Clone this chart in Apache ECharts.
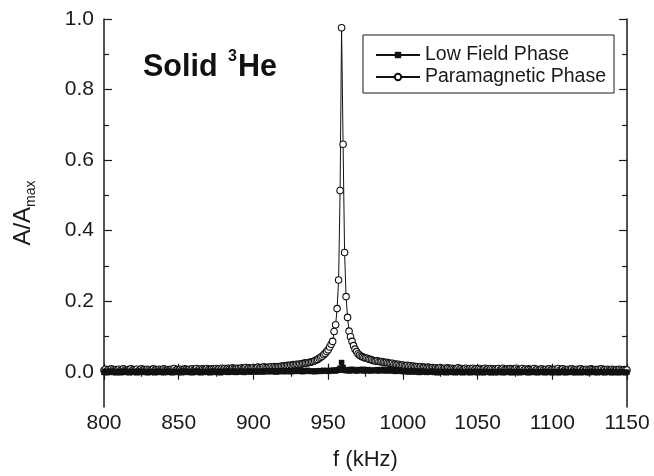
<!DOCTYPE html>
<html>
<head>
<meta charset="utf-8">
<script src="https://cdn.jsdelivr.net/npm/echarts@6/dist/echarts.min.js"></script>
<style>
html,body{margin:0;padding:0;background:#fff;}
#chart{width:654px;height:476px;}
</style>
</head>
<body>
<div id="chart"></div>
<script>
// Frequencies (kHz)
const freqs = [
  800,801,802,803,804,805,806,807,808,809,
  810,811,812,813,814,815,816,817,818,819,
  820,821,822,823,824,825,826,827,828,829,
  830,831,832,833,834,835,836,837,838,839,
  840,841,842,843,844,845,846,847,848,849,
  850,851,852,853,854,855,856,857,858,859,
  860,861,862,863,864,865,866,867,868,869,
  870,871,872,873,874,875,876,877,878,879,
  880,881,882,883,884,885,886,887,888,889,
  890,891,892,893,894,895,896,897,898,899,
  900,901,902,903,904,905,906,907,908,909,
  910,911,912,913,914,915,916,917,918,919,
  920,921,922,923,924,925,926,927,928,929,
  930,931,932,933,934,935,936,937,938,
  939,940,941,942,943,944,945,946,947,948,
  949,950,951,952,953,954,955,956,957,958,
  959,960,961,962,963,964,965,966,967,968,
  969,970,971,972,973,974,975,976,977,978,
  979,980,981,
  982,983,984,985,986,987,988,989,990,991,
  992,993,994,995,996,997,998,999,1000,1001,
  1002,1003,1004,1005,1006,1007,1008,1009,1010,1011,
  1012,1013,1014,1015,1016,1017,1018,1019,1020,1021,
  1022,1023,1024,1025,1026,1027,1028,1029,1030,1031,
  1032,1033,1034,1035,1036,1037,1038,1039,1040,1041,
  1042,1043,1044,1045,1046,1047,1048,1049,1050,1051,
  1052,1053,1054,1055,1056,1057,1058,1059,1060,1061,
  1062,1063,1064,1065,1066,1067,1068,1069,1070,1071,
  1072,1073,1074,1075,1076,1077,1078,1079,1080,1081,
  1082,1083,1084,1085,1086,1087,1088,1089,1090,1091,
  1092,1093,1094,1095,1096,1097,1098,1099,1100,1101,
  1102,1103,1104,1105,1106,1107,1108,1109,1110,1111,
  1112,1113,1114,1115,1116,1117,1118,1119,1120,1121,
  1122,1123,1124,1125,1126,1127,1128,1129,1130,1131,
  1132,1133,1134,1135,1136,1137,1138,1139,1140,1141,
  1142,1143,1144,1145,1146,1147,1148,1149,1150
];
// Low Field Phase, A/Amax
const lowField = [
  -0.002,0.001,-0.003,0.000,-0.001,0.002,-0.002,0.000,-0.003,0.001,
  -0.001,-0.003,0.000,0.002,-0.002,-0.001,0.001,-0.003,0.000,-0.002,
  0.001,-0.001,-0.003,0.000,0.002,-0.002,0.000,-0.001,0.001,-0.003,
  0.000,-0.002,0.001,-0.001,-0.003,0.000,0.002,-0.002,-0.001,0.001,
  -0.003,0.000,-0.001,0.002,-0.002,0.000,-0.003,0.001,-0.001,0.000,
  -0.002,0.001,-0.003,0.000,0.002,-0.001,-0.002,0.000,0.001,-0.003,
  0.000,-0.001,0.002,-0.002,0.000,-0.003,0.001,-0.001,0.000,-0.002,
  0.001,-0.003,0.000,0.002,-0.001,-0.002,0.001,0.000,-0.003,0.001,
  -0.001,0.000,0.002,-0.002,0.001,-0.001,0.000,0.002,-0.002,0.000,
  0.001,-0.001,0.002,0.000,-0.002,0.001,0.000,0.002,-0.001,0.001,
  0.000,0.002,-0.001,0.001,0.000,0.002,-0.001,0.001,0.003,0.000,
  0.001,0.002,0.000,0.003,0.001,-0.001,0.002,0.000,0.003,0.001,
  0.002,0.000,0.003,0.001,0.002,0.000,0.003,0.001,0.002,0.004,
  0.001,0.003,0.002,0.000,0.003,0.002,0.004,0.001,0.002,
  0.001,0.002,0.000,0.002,0.001,0.003,0.001,0.002,0.004,0.002,
  0.003,0.001,0.004,0.002,0.003,0.005,0.002,0.004,0.006,0.010,
  0.026,0.012,0.005,0.003,0.006,0.002,0.004,0.007,0.003,0.005,
  0.002,0.006,0.003,0.004,0.007,0.002,0.005,0.003,0.006,0.002,
  0.004,0.003,0.005,
  0.003,0.006,0.002,0.005,0.004,0.007,0.002,0.005,0.003,0.006,
  0.002,0.004,0.006,0.001,0.004,0.002,0.005,0.001,0.003,0.000,
  0.003,0.001,-0.001,0.002,0.000,0.003,-0.001,0.001,0.002,-0.002,
  0.001,-0.001,0.002,0.000,-0.002,0.001,-0.001,0.000,0.002,-0.002,
  0.000,-0.003,0.001,-0.001,-0.002,0.000,0.001,-0.003,-0.001,0.000,
  -0.002,0.001,-0.001,-0.003,0.000,-0.002,0.001,-0.001,-0.003,0.000,
  -0.001,-0.002,0.001,-0.003,0.000,-0.001,-0.002,0.001,-0.003,-0.001,
  0.000,-0.002,-0.003,0.001,-0.001,0.000,-0.002,-0.003,0.000,-0.001,
  -0.003,0.000,-0.002,0.001,-0.001,-0.003,0.000,-0.002,-0.001,0.001,
  -0.002,-0.003,0.000,-0.001,-0.002,0.001,-0.003,-0.001,0.000,-0.002,
  0.000,-0.001,-0.003,-0.002,0.001,-0.001,-0.002,0.000,-0.003,-0.001,
  -0.002,0.000,-0.001,-0.003,0.001,-0.002,-0.001,0.000,-0.003,-0.002,
  0.000,-0.001,-0.003,-0.002,0.000,0.001,-0.002,-0.003,-0.001,0.000,
  -0.002,-0.001,0.001,-0.003,-0.002,0.000,-0.001,-0.003,0.000,-0.002,
  -0.001,0.000,-0.003,-0.002,0.001,-0.001,-0.002,0.000,-0.003,-0.001,
  0.000,-0.002,-0.001,-0.003,0.000,-0.002,0.001,-0.001,-0.003,-0.002,
  0.000,-0.001,-0.003,-0.002,0.000,-0.001,-0.002,-0.003,-0.001
];
// Paramagnetic Phase, A/Amax
const paramagnetic = [
  0.004,0.007,0.002,0.006,0.003,0.008,0.005,0.002,0.006,0.004,
  0.007,0.003,0.005,0.008,0.004,0.002,0.006,0.005,0.008,0.003,
  0.006,0.004,0.007,0.002,0.005,0.008,0.004,0.006,0.003,0.007,
  0.005,0.002,0.006,0.008,0.004,0.006,0.003,0.007,0.005,0.004,
  0.008,0.005,0.003,0.006,0.004,0.007,0.005,0.009,0.004,0.006,
  0.003,0.007,0.005,0.004,0.008,0.006,0.003,0.007,0.005,0.008,
  0.004,0.006,0.009,0.005,0.007,0.004,0.008,0.006,0.005,0.009,
  0.006,0.004,0.008,0.007,0.005,0.009,0.006,0.008,0.005,0.010,
  0.007,0.009,0.006,0.010,0.008,0.006,0.011,0.008,0.007,0.010,
  0.009,0.007,0.011,0.008,0.010,0.012,0.008,0.011,0.009,0.010,
  0.012,0.009,0.011,0.013,0.010,0.012,0.011,0.014,0.012,0.010,
  0.013,0.012,0.014,0.011,0.015,0.013,0.012,0.015,0.014,0.016,
  0.015,0.017,0.016,0.018,0.017,0.019,0.018,0.020,0.019,0.021,
  0.020,0.022,0.021,0.023,0.024,0.025,0.025,0.026,0.027,
  0.028,0.029,0.031,0.033,0.035,0.038,0.041,0.044,0.048,0.052,
  0.057,0.062,0.070,0.078,0.086,0.114,0.133,0.179,0.260,0.514,
  0.975,0.645,0.338,0.213,0.154,0.115,0.099,0.086,0.074,0.064,
  0.057,0.051,0.047,0.044,0.042,0.040,0.039,0.038,0.036,0.035,
  0.034,0.032,0.031,
  0.030,0.031,0.029,0.028,0.029,0.027,0.026,0.027,0.025,0.024,
  0.023,0.024,0.021,0.022,0.020,0.021,0.019,0.018,0.019,0.017,
  0.016,0.018,0.015,0.017,0.014,0.016,0.013,0.015,0.014,0.012,
  0.014,0.011,0.013,0.012,0.010,0.013,0.011,0.009,0.012,0.010,
  0.011,0.008,0.010,0.012,0.009,0.007,0.010,0.008,0.011,0.009,
  0.007,0.010,0.008,0.006,0.009,0.011,0.007,0.009,0.006,0.008,
  0.010,0.007,0.005,0.009,0.007,0.010,0.006,0.008,0.005,0.009,
  0.007,0.004,0.008,0.010,0.006,0.008,0.005,0.009,0.007,0.004,
  0.008,0.006,0.009,0.005,0.007,0.010,0.006,0.004,0.008,0.006,
  0.009,0.007,0.005,0.008,0.010,0.006,0.004,0.007,0.009,0.005,
  0.007,0.004,0.008,0.006,0.003,0.007,0.009,0.005,0.007,0.004,
  0.006,0.008,0.005,0.003,0.007,0.005,0.008,0.004,0.006,0.003,
  0.007,0.005,0.009,0.004,0.006,0.008,0.003,0.006,0.004,0.007,
  0.005,0.008,0.004,0.006,0.003,0.007,0.005,0.008,0.004,0.006,
  0.003,0.007,0.005,0.004,0.008,0.006,0.003,0.006,0.004,0.007,
  0.005,0.008,0.004,0.006,0.003,0.007,0.005,0.004,0.007,0.005,
  0.003,0.006,0.004,0.007,0.005,0.003,0.006,0.004,0.005
];
const seriesNames = ['Low Field Phase', 'Paramagnetic Phase'];
const xTickInterval = 50;
const yTickInterval = 0.2;

const FONT = '"Liberation Sans", Arial, Helvetica, sans-serif';
const gridL = 104, gridR = 27, gridT = 19, gridB = 69;
const yMin = -0.1, yMax = 1.0;
const plotH = 476 - gridT - gridB;
// second (label) grid covering 0..1.0 of the same scale
const gridB2 = gridB + plotH * (0 - yMin) / (yMax - yMin);

const chart = echarts.init(document.getElementById('chart'), null, {renderer: 'canvas'});
const axisLine = {show: true, lineStyle: {color: '#1a1a1a', width: 1.5}};
const tickStyle = {color: '#1a1a1a', width: 1.2};

const option = {
  animation: false,
  backgroundColor: '#fff',
  textStyle: {fontFamily: FONT},
  title: {
    left: 143, top: 48, padding: 0,
    text: '{a|Solid }{s|3}{a|He}',
    textStyle: {
      rich: {
        a: {fontFamily: FONT, fontSize: 30.5, fontWeight: 'bold', color: '#111', lineHeight: 35, verticalAlign: 'bottom'},
        s: {fontFamily: FONT, fontSize: 16, fontWeight: 'bold', color: '#111', lineHeight: 18, verticalAlign: 'top', padding: [1, 1, 0, 2]}
      }
    }
  },
  legend: {
    left: 363, top: 35,
    orient: 'vertical',
    itemWidth: 44, itemHeight: 8, itemGap: 2,
    padding: [10, 8, 6, 12],
    borderColor: '#1a1a1a', borderWidth: 1,
    textStyle: {fontFamily: FONT, fontSize: 19.5, color: '#1a1a1a', lineHeight: 20},
    data: seriesNames
  },
  grid: [
    {left: gridL, right: gridR, top: gridT, bottom: gridB},
    {left: gridL, right: gridR, top: gridT, bottom: gridB2}
  ],
  xAxis: [
    {
      gridIndex: 0, type: 'value', position: 'bottom',
      min: 800, max: 1150, interval: xTickInterval,
      axisLine: axisLine,
      axisTick: {show: true, inside: true, length: 8, lineStyle: tickStyle},
      minorTick: {show: true, splitNumber: 2, length: 5, lineStyle: tickStyle},
      axisLabel: {fontFamily: FONT, fontSize: 21, color: '#1a1a1a', margin: 6,
        formatter: v => String(v)},
      splitLine: {show: false},
      name: 'f (kHz)', nameLocation: 'middle', nameGap: 42,
      nameTextStyle: {fontFamily: FONT, fontSize: 22, color: '#1a1a1a'}
    },
    {
      gridIndex: 0, type: 'value', position: 'top',
      min: 800, max: 1150, interval: xTickInterval,
      axisLine: axisLine,
      axisTick: {show: true, inside: true, length: 8, lineStyle: tickStyle},
      minorTick: {show: true, splitNumber: 2, length: 5, lineStyle: tickStyle},
      axisLabel: {show: false},
      splitLine: {show: false}
    },
    {gridIndex: 1, type: 'value', min: 800, max: 1150, show: false}
  ],
  yAxis: [
    {
      gridIndex: 0, type: 'value', position: 'left',
      min: yMin, max: yMax,
      axisLine: axisLine,
      axisTick: {show: false}, axisLabel: {show: false}, splitLine: {show: false},
      name: '{a|A/A}{s|max}', nameLocation: 'middle', nameGap: 66,
      nameTextStyle: {
        padding: [0, 0, 0, 0],
        rich: {
          a: {fontFamily: FONT, fontSize: 24, color: '#1a1a1a', lineHeight: 30, verticalAlign: 'middle'},
          s: {fontFamily: FONT, fontSize: 14, color: '#1a1a1a', lineHeight: 12, verticalAlign: 'bottom'}
        }
      }
    },
    {
      gridIndex: 0, type: 'value', position: 'right',
      min: yMin, max: yMax,
      axisLine: axisLine,
      axisTick: {show: false}, axisLabel: {show: false}, splitLine: {show: false}
    },
    {
      gridIndex: 1, type: 'value', position: 'left',
      min: 0, max: yMax, interval: yTickInterval,
      axisLine: {show: false},
      axisTick: {show: true, inside: true, length: 8, lineStyle: tickStyle},
      minorTick: {show: true, splitNumber: 2, length: 5, lineStyle: tickStyle},
      axisLabel: {fontFamily: FONT, fontSize: 21, color: '#1a1a1a', margin: 10,
        formatter: v => v.toFixed(1)},
      splitLine: {show: false}
    },
    {
      gridIndex: 1, type: 'value', position: 'right',
      min: 0, max: yMax, interval: yTickInterval,
      axisLine: {show: false},
      axisTick: {show: true, inside: true, length: 8, lineStyle: tickStyle},
      minorTick: {show: true, splitNumber: 2, length: 5, lineStyle: tickStyle},
      axisLabel: {show: false},
      splitLine: {show: false}
    }
  ],
  series: [
    {
      name: seriesNames[0], type: 'line',
      xAxisIndex: 0, yAxisIndex: 0, z: 3,
      data: freqs.map((f, i) => [f, lowField[i]]),
      symbol: 'rect', symbolSize: 5.5, showAllSymbol: true,
      itemStyle: {color: '#111', borderColor: '#111', borderWidth: 0},
      lineStyle: {color: '#111', width: 1.2},
      emphasis: {disabled: true}
    },
    {
      name: seriesNames[1], type: 'line',
      xAxisIndex: 0, yAxisIndex: 0, z: 2,
      data: freqs.map((f, i) => [f, paramagnetic[i]]),
      symbol: 'circle', symbolSize: 6.5, showAllSymbol: true,
      itemStyle: {color: '#fff', borderColor: '#111', borderWidth: 1.1},
      lineStyle: {color: '#111', width: 1},
      emphasis: {disabled: true}
    }
  ]
};
chart.setOption(option);
</script>
</body>
</html>
